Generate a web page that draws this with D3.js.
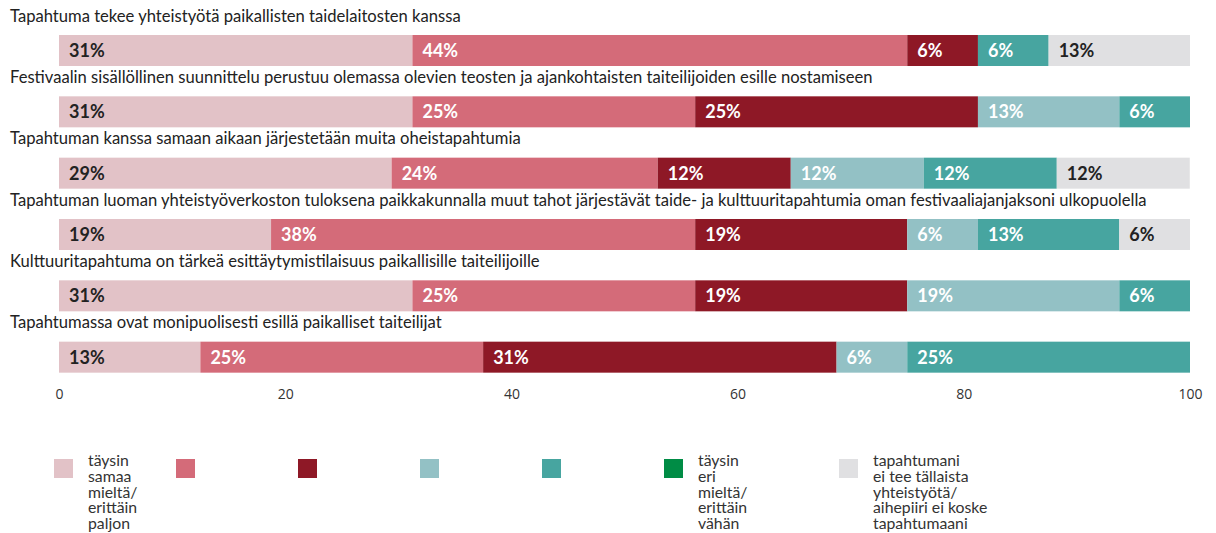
<!DOCTYPE html>
<html>
<head>
<meta http-equiv="Content-Type" content="text/html;charset=utf-8"/>
<script src="https://d3js.org/d3.v7.min.js"></script>
<style type="text/css">
body { margin: 0; background: #fff; }
.title { font-family: Lato, sans-serif; font-size: 16.6px; fill: #222; }
.val { font-family: Lato, sans-serif; font-size: 18px; font-weight: bold; }
.tick text { font-family: "Open Sans", sans-serif; font-size: 14px; fill: #333; }
.leg { font-family: Lato, sans-serif; font-size: 15.8px; fill: #333; }
</style>
</head>
<body>
<script>

var width = 1216, height = 533;

// statements (one per bar)
var statements = [
  "Tapahtuma tekee yhteistyötä paikallisten taidelaitosten kanssa",
  "Festivaalin sisällöllinen suunnittelu perustuu olemassa olevien teosten ja ajankohtaisten taiteilijoiden esille nostamiseen",
  "Tapahtuman kanssa samaan aikaan järjestetään muita oheistapahtumia",
  "Tapahtuman luoman yhteistyöverkoston tuloksena paikkakunnalla muut tahot järjestävät taide- ja kulttuuritapahtumia oman festivaaliajanjaksoni ulkopuolella",
  "Kulttuuritapahtuma on tärkeä esittäytymistilaisuus paikallisille taiteilijoille",
  "Tapahtumassa ovat monipuolisesti esillä paikalliset taiteilijat"
];

// answer categories, from "täysin samaa mieltä" to "ei koske"
var categories = ["c1", "c2", "c3", "c4", "c5", "c6", "c7"];
var legendLabels = [
  ["täysin", "samaa", "mieltä/", "erittäin", "paljon"],
  [], [], [], [],
  ["täysin", "eri", "mieltä/", "erittäin", "vähän"],
  ["tapahtumani", "ei tee tällaista", "yhteistyötä/", "aihepiiri ei koske", "tapahtumaani"]
];

// share of answers (%) per category, one array per category
var c1 = [31.25, 31.25, 29.41, 18.75, 31.25, 12.5];
var c2 = [43.75, 25, 23.53, 37.5, 25, 25];
var c3 = [6.25, 25, 11.76, 18.75, 18.75, 31.25];
var c4 = [0, 12.5, 11.76, 6.25, 18.75, 6.25];
var c5 = [6.25, 6.25, 11.76, 12.5, 6.25, 25];
var c6 = [0, 0, 0, 0, 0, 0];
var c7 = [12.5, 0, 11.76, 6.25, 0, 0];

var xTicks = [0, 20, 40, 60, 80, 100];

var colors = ["#e2c2c7", "#d46b79", "#8e1826", "#93c1c5", "#47a5a0", "#008c45", "#e0e0e2"];
var textColors = ["#222", "#fff", "#fff", "#fff", "#fff", "#fff", "#222"];

var rows = statements.map(function(s, i) {
  return { name: s, c1: c1[i], c2: c2[i], c3: c3[i], c4: c4[i], c5: c5[i], c6: c6[i], c7: c7[i] };
});

var stack = d3.stack().keys(categories);
var series = stack(rows);

var x = d3.scaleLinear().domain([0, 100]).range([59, 1190]);
var y = d3.scaleBand().domain(statements).range([4, 372]);
var color = d3.scaleOrdinal().domain(categories).range(colors);

var svg = d3.select("body").append("svg")
    .attr("width", width)
    .attr("height", height);

// statement titles
svg.append("g").selectAll("text")
    .data(statements)
    .enter().append("text")
    .attr("class", "title")
    .attr("x", 10)
    .attr("y", function(d) { return y(d) + 17.5; })
    .text(function(d) { return d; });

var barH = 31;

var layers = svg.append("g").selectAll("g")
    .data(series)
    .enter().append("g")
    .attr("fill", function(d) { return color(d.key); });

layers.selectAll("rect")
    .data(function(d) { return d; })
    .enter().append("rect")
    .attr("x", function(d) { return x(d[0]); })
    .attr("y", function(d) { return y(d.data.name) + 31; })
    .attr("width", function(d) { return x(d[1]) - x(d[0]); })
    .attr("height", barH);

// value labels
series.forEach(function(s, k) {
  svg.append("g").selectAll("text")
      .data(s.filter(function(d) { return d[1] - d[0] > 0; }))
      .enter().append("text")
      .attr("class", "val")
      .attr("fill", textColors[k])
      .attr("x", function(d) { return x(d[0]) + 10; })
      .attr("y", function(d) { return y(d.data.name) + 31 + barH / 2; })
      .attr("dy", "0.36em")
      .text(function(d) { return Math.round(d[1] - d[0]) + "%"; });
});

// x axis
var axis = svg.append("g")
    .attr("transform", "translate(0,381)")
    .call(d3.axisBottom(x).tickValues(xTicks).tickSize(0).tickPadding(8));
axis.select(".domain").remove();

// legend
var legX = 54, legY = 459;
var leg = svg.append("g");
categories.forEach(function(c, i) {
  var g = leg.append("g").attr("transform", "translate(" + legX + "," + legY + ")");
  g.append("rect").attr("width", 19).attr("height", 19).attr("fill", colors[i]);
  g.append("text").attr("class", "leg")
      .selectAll("tspan")
      .data(legendLabels[i])
      .enter().append("tspan")
      .attr("x", 34)
      .attr("y", function(d, j) { return 7 + j * 15.8; })
      .text(function(d) { return d; });
  legX += legendLabels[i].length && i > 0 ? 175 : 122;
});

</script>
</body>
</html>
